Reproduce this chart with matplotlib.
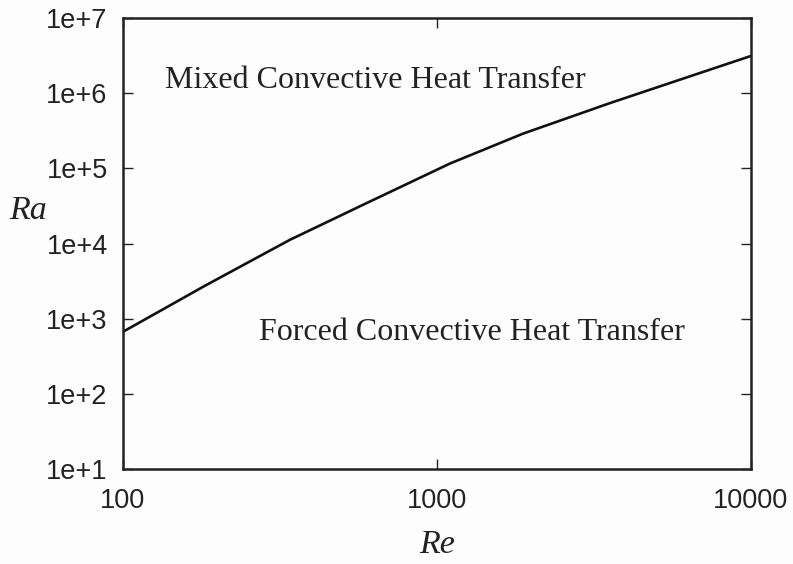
import matplotlib
matplotlib.use("Agg")
import matplotlib.pyplot as plt

re_vals = [100, 182, 340, 580, 1100, 1880, 3560, 5900, 10000]
ra_vals = [670, 2730, 11200, 32600, 116000, 290000, 740000, 1.5e6, 3.13e6]
y_ticks = [1e1, 1e2, 1e3, 1e4, 1e5, 1e6, 1e7]
y_tick_labels = ["1e+1", "1e+2", "1e+3", "1e+4", "1e+5", "1e+6", "1e+7"]
x_ticks = [100, 1000, 10000]
x_tick_labels = ["100", "1000", "10000"]

fig = plt.figure(figsize=(7.93, 5.64), dpi=100, facecolor="#fdfdfd")
ax = fig.add_axes([0.1551, 0.1684, 0.7919, 0.7996])
ax.set_facecolor("#fdfdfd")
ax.plot(re_vals, ra_vals, color="#111111", lw=1.9, solid_joinstyle="round")
ax.set_xscale("log")
ax.set_yscale("log")
ax.set_xlim(100, 10000)
ax.set_ylim(1e1, 1e7)
ax.set_xticks(x_ticks)
ax.set_xticklabels(x_tick_labels)
ax.set_yticks(y_ticks)
ax.set_yticklabels(y_tick_labels)
ax.minorticks_off()
ax.tick_params(direction="in", length=7, width=1.0, top=True, right=True,
               labelsize=19.5, colors="#222222", labelfontfamily="Liberation Sans")
ax.tick_params(axis="x", pad=13.5)
ax.tick_params(axis="y", pad=11)
for s in ax.spines.values():
    s.set_linewidth(1.8)
    s.set_color("#222222")

serif = "Liberation Serif"
ax.text(0.0675, 0.862, "Mixed Convective Heat Transfer", transform=ax.transAxes,
        fontsize=23, family=serif, color="#222222", va="center", ha="left")
ax.text(0.217, 0.302, "Forced Convective Heat Transfer", transform=ax.transAxes,
        fontsize=23, family=serif, color="#222222", va="center", ha="left")
fig.text(0.035, 0.627, "Ra", fontsize=24.5, family=serif, style="italic",
         color="#222222", va="center", ha="center")
fig.text(0.551, 0.035, "Re", fontsize=24.5, family=serif, style="italic",
         color="#222222", va="center", ha="center")

fig.savefig("out.png", dpi=100, facecolor=fig.get_facecolor())
